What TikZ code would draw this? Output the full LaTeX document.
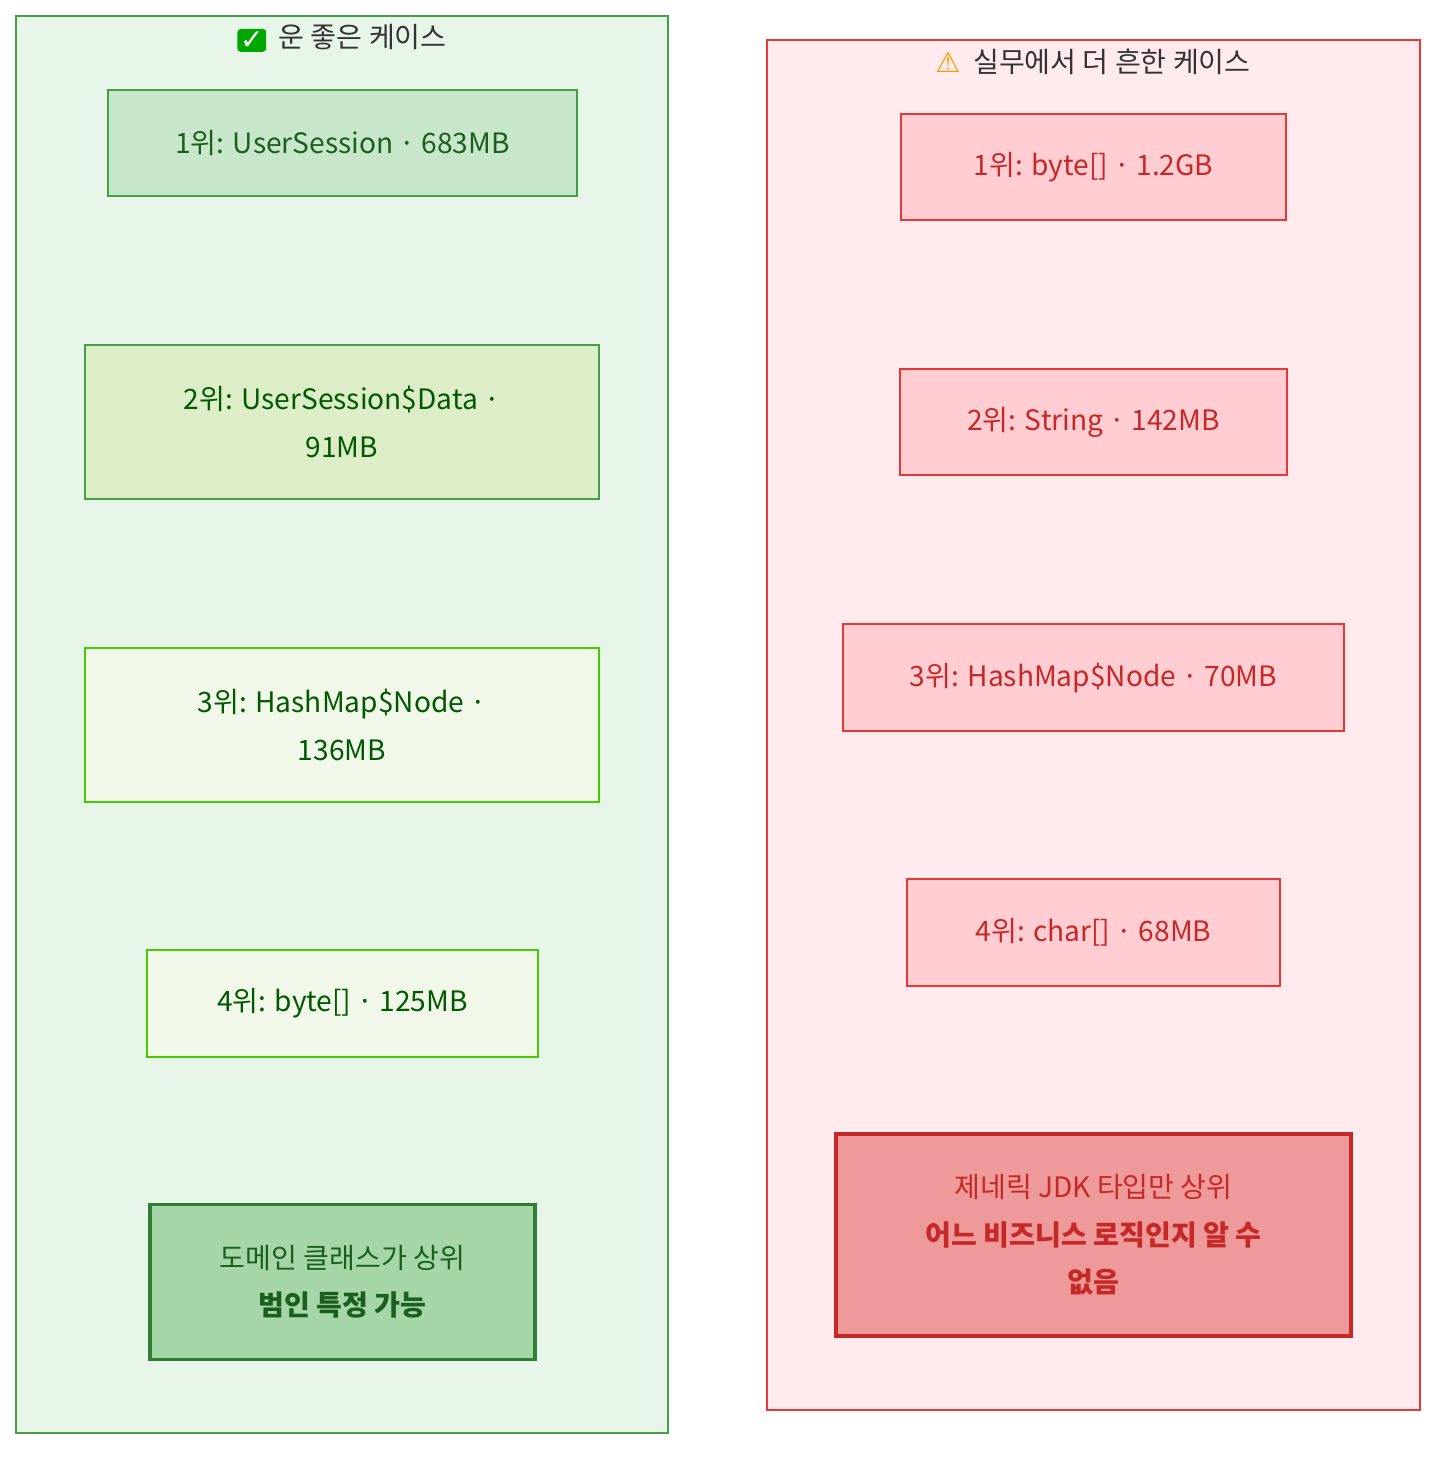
\documentclass[tikz,border=0pt]{standalone}
\usepackage{fontspec}
\setmainfont{Noto Sans CJK KR}
\newfontfamily\symfont{DejaVu Sans}
\usepackage{tikz}
\usetikzlibrary{positioning}
\definecolor{goodbg}{HTML}{E8F5E9}
\definecolor{goodline}{HTML}{43A047}
\definecolor{goodtxt}{HTML}{1B5E20}
\definecolor{gA}{HTML}{C8E6C9}
\definecolor{gB}{HTML}{DCEDC8}
\definecolor{gC}{HTML}{F1F8E9}
\definecolor{gD}{HTML}{A5D6A7}
\definecolor{gDline}{HTML}{2E7D32}
\definecolor{badbg}{HTML}{FFEBEE}
\definecolor{badline}{HTML}{E53935}
\definecolor{badtxt}{HTML}{C62828}
\definecolor{rA}{HTML}{FFCDD2}
\definecolor{rB}{HTML}{EF9A9A}
\begin{document}
\begin{tikzpicture}[x=0.02cm,y=-0.02cm,
  box/.style={draw, line width=0.8pt, font=\fontsize{16}{27}\selectfont, align=center, inner sep=0pt},
  goodbox/.style={box, draw=goodline, text=goodtxt},
  badbox/.style={box, draw=badline, fill=rA, text=badtxt},
  dims/.style 2 args={minimum width={#1*0.02cm}, minimum height={#2*0.02cm}}]

\useasboundingbox (0,0) rectangle (1452,1466);

% panels
\draw[goodline, fill=goodbg, line width=1.5pt] (16,16) rectangle (668,1433);
\draw[badline, fill=badbg, line width=1.5pt] (767,40) rectangle (1420,1410);

\node[font=\fontsize{16}{18}\selectfont, text=black!80] (goodtitle) at (342,38)
  {\tikz[baseline=-4pt]\node[fill=green!65!black, rounded corners=2pt, text=white, inner sep=1.5pt, font=\symfont\bfseries]{✓};\ \ 운 좋은 케이스};
\node[font=\fontsize{16}{18}\selectfont, text=black!80] (badtitle) at (1093,62)
  {{\symfont\color{orange!80!yellow}⚠}\ \ 실무에서 더 흔한 케이스};

% left
\node[goodbox, fill=gA, dims={469}{106}] (g1) at (342.5,143) {1위: UserSession · 683MB};
\node[goodbox, fill=gB, dims={514}{154}, text=green!35!black] (g2) at (342,422) {2위: UserSession\$Data ·\\91MB};
\node[goodbox, fill=gC, draw=green!55!lime!80!black, dims={514}{154}, text=green!35!black] (g3) at (342,725) {3위: HashMap\$Node ·\\136MB};
\node[goodbox, fill=gC, draw=green!55!lime!80!black, dims={391}{107}, text=green!35!black] (g4) at (342.5,1003.5) {4위: byte[] · 125MB};
\node[goodbox, fill=gD, draw=gDline, line width=1.8pt, dims={385}{155}] (g5) at (342.5,1282) {도메인 클래스가 상위\\\textbf{범인 특정 가능}};

% right
\node[badbox, dims={385}{106}] (r1) at (1093.5,167) {1위: byte[] · 1.2GB};
\node[badbox, dims={387}{106}] (r2) at (1093.5,422) {2위: String · 142MB};
\node[badbox, dims={501}{107}] (r3) at (1093.5,677.5) {3위: HashMap\$Node · 70MB};
\node[badbox, dims={373}{107}] (r4) at (1093.5,932.5) {4위: char[] · 68MB};
\node[badbox, fill=rB, draw=badtxt, line width=1.8pt, dims={515}{202}] (r5) at (1093.5,1235) {제네릭 JDK 타입만 상위\\\textbf{어느 비즈니스 로직인지 알 수}\\\textbf{없음}};

\end{tikzpicture}
\end{document}
